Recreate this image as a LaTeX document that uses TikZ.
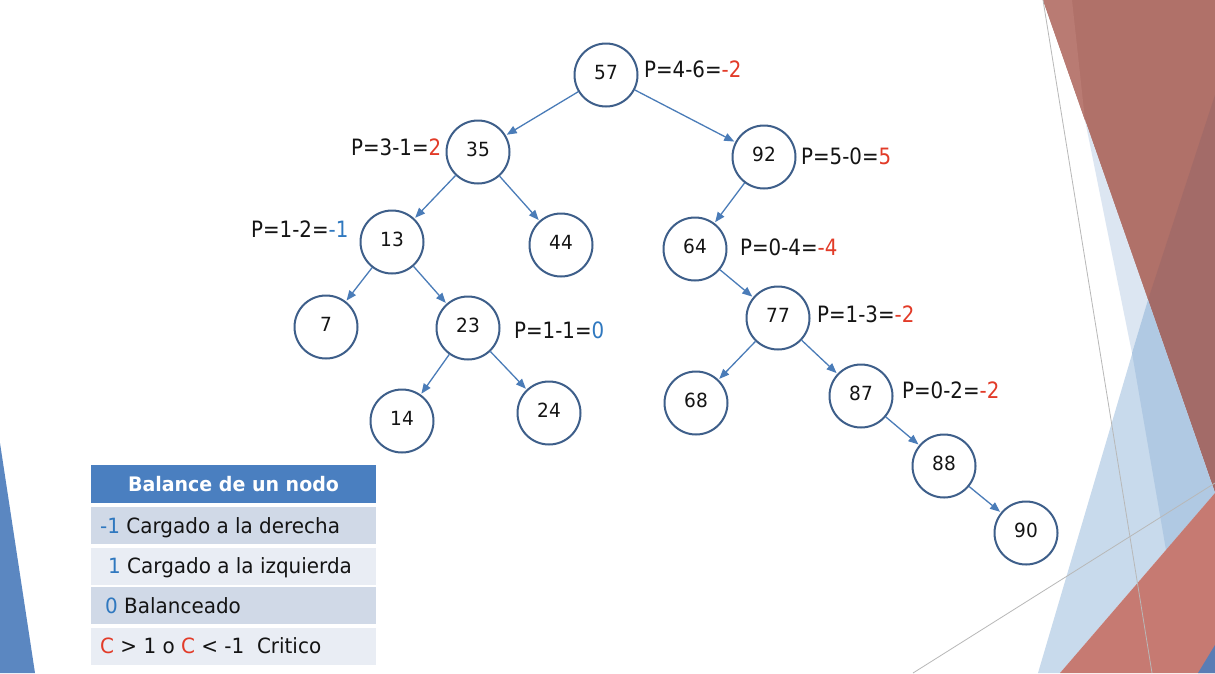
\documentclass[tikz,border=0pt]{standalone}
\usepackage{fontspec}
\setmainfont{Carlito}
\newfontfamily\tahomalike[FakeStretch=0.95]{DejaVu Sans}
\newfontfamily\tahomanarrow[FakeStretch=0.88]{DejaVu Sans}
\usetikzlibrary{arrows.meta}
\definecolor{nodeborder}{HTML}{3E5F8A}
\definecolor{arrowblue}{HTML}{4A7CB8}
\definecolor{tred}{HTML}{E23B28}
\definecolor{tblue}{HTML}{2F78BF}
\definecolor{txt}{HTML}{141414}
\definecolor{hdrblue}{HTML}{4A7FC0}
\definecolor{rowdark}{HTML}{D0D9E7}
\definecolor{rowlight}{HTML}{E9EDF4}
\definecolor{brownA}{HTML}{B07169}
\definecolor{brownB}{HTML}{B97B73}
\definecolor{brownC}{HTML}{A36B68}
\definecolor{paleblue}{HTML}{DCE6F2}
\definecolor{lightblue}{HTML}{C8DAEC}
\definecolor{midblue}{HTML}{B0C9E3}
\definecolor{redA}{HTML}{C67A72}
\definecolor{cornerblue}{HTML}{5A7DB5}
\definecolor{leftblue}{HTML}{5B87C1}
\definecolor{thinline}{HTML}{B8B8B8}
\begin{document}
\begin{tikzpicture}[x=1pt,y=-1pt,
  tn/.style={circle, draw=nodeborder, line width=2pt, minimum size=63pt, inner sep=0pt,
    font=\tahomalike\fontsize{19.5}{23}\selectfont, text=txt, text depth=6pt},
  lbl/.style={anchor=base west, inner sep=0pt, font=\tahomanarrow\fontsize{22.5}{27}\selectfont, text=txt},
  edgearrow/.style={draw=arrowblue, line width=1.3pt, -{Triangle[length=10pt,width=8pt]}, shorten >=1pt},
  hdrbox/.style={rectangle, fill=hdrblue, minimum width=285pt, minimum height=38pt, inner sep=0pt},
  hdrtxt/.style={anchor=base, inner sep=0pt, font=\tahomalike\fontsize{20}{24}\selectfont\bfseries, text=white},
  rowbox/.style={rectangle, minimum width=285pt, minimum height=37pt, inner sep=0pt},
  rowtxt/.style={anchor=base west, inner sep=0pt, font=\tahomalike\fontsize{21}{25}\selectfont, text=txt}
]
\useasboundingbox (0,0) rectangle (1215,673);
\fill[white] (0,0) rectangle (1215,673);

% background decoration
\fill[leftblue] (0,443) -- (35,673) -- (0,673) -- cycle;
\fill[brownA] (1043,0) -- (1215,0) -- (1215,493) -- cycle;
\fill[brownB] (1043,0) -- (1072,0) -- (1085,120) -- cycle;
\fill[brownC] (1215,95) -- (1148,300) -- (1215,493) -- cycle;
\fill[paleblue] (1085,120) -- (1148,300) -- (1132,353) -- cycle;
\fill[lightblue] (1148,300) -- (1215,493) -- (1060,673) -- (1038,673) -- cycle;
\fill[midblue] (1148,300) -- (1215,493) -- (1166,550) -- (1132,353) -- cycle;
\fill[redA] (1060,673) -- (1215,493) -- (1215,673) -- cycle;
\fill[cornerblue] (1198,673) -- (1215,645) -- (1215,673) -- cycle;
\draw[thinline, line width=0.8pt] (1043,0) -- (1152,673);
\draw[thinline, line width=0.8pt] (913,673) -- (1215,483);

% tree nodes
\node[tn] (n57) at (606,75) {57};
\node[tn] (n35) at (478,152) {35};
\node[tn] (n92) at (764,157) {92};
\node[tn] (n13) at (392,242) {13};
\node[tn] (n44) at (561,245) {44};
\node[tn] (n64) at (695,249) {64};
\node[tn] (n7) at (326,327) {7};
\node[tn] (n23) at (468,328) {23};
\node[tn] (n77) at (778,318) {77};
\node[tn] (n14) at (402,421) {14};
\node[tn] (n24) at (549,413) {24};
\node[tn] (n68) at (696,403) {68};
\node[tn] (n87) at (861,396) {87};
\node[tn] (n88) at (944,466) {88};
\node[tn] (n90) at (1026,533) {90};

% edges
\draw[edgearrow] (n57) -- (n35);
\draw[edgearrow] (n57) -- (n92);
\draw[edgearrow] (n35) -- (n13);
\draw[edgearrow] (n35) -- (n44);
\draw[edgearrow] (n13) -- (n7);
\draw[edgearrow] (n13) -- (n23);
\draw[edgearrow] (n23) -- (n14);
\draw[edgearrow] (n23) -- (n24);
\draw[edgearrow] (n92) -- (n64);
\draw[edgearrow] (n64) -- (n77);
\draw[edgearrow] (n77) -- (n68);
\draw[edgearrow] (n77) -- (n87);
\draw[edgearrow] (n87) -- (n88);
\draw[edgearrow] (n88) -- (n90);

% balance labels
\node[lbl] (l57) at (644,77) {P=4-6=\textcolor{tred}{-2}};
\node[lbl] (l35) at (351,155) {P=3-1=\textcolor{tred}{2}};
\node[lbl] (l92) at (801,164) {P=5-0=\textcolor{tred}{5}};
\node[lbl] (l13) at (251,237) {P=1-2=\textcolor{tblue}{-1}};
\node[lbl] (l64) at (740,255) {P=0-4=\textcolor{tred}{-4}};
\node[lbl] (l23) at (514,338) {P=1-1=\textcolor{tblue}{0}};
\node[lbl] (l77) at (817,322) {P=1-3=\textcolor{tred}{-2}};
\node[lbl] (l87) at (902,398) {P=0-2=\textcolor{tred}{-2}};

% table
\node[hdrbox] (th) at (233.5,484) {};
\node[rowbox, fill=rowdark] (r1) at (233.5,525.5) {};
\node[rowbox, fill=rowlight] (r2) at (233.5,566) {};
\node[rowbox, fill=rowdark] (r3) at (233.5,605.5) {};
\node[rowbox, fill=rowlight] (r4) at (233.5,646) {};
\node[hdrtxt] (tht) at (233.5,491.5) {Balance de un nodo};
\node[rowtxt] (t1) at (100,533) {\textcolor{tblue}{-1} Cargado a la derecha};
\node[rowtxt] (t2) at (108,573.5) {\textcolor{tblue}{1} Cargado a la izquierda};
\node[rowtxt] (t3) at (105,613) {\textcolor{tblue}{0} Balanceado};
\node[rowtxt] (t4) at (100,653.5) {\textcolor{tred}{C} > 1 o \textcolor{tred}{C} < -1\ \ Critico};
\end{tikzpicture}
\end{document}
